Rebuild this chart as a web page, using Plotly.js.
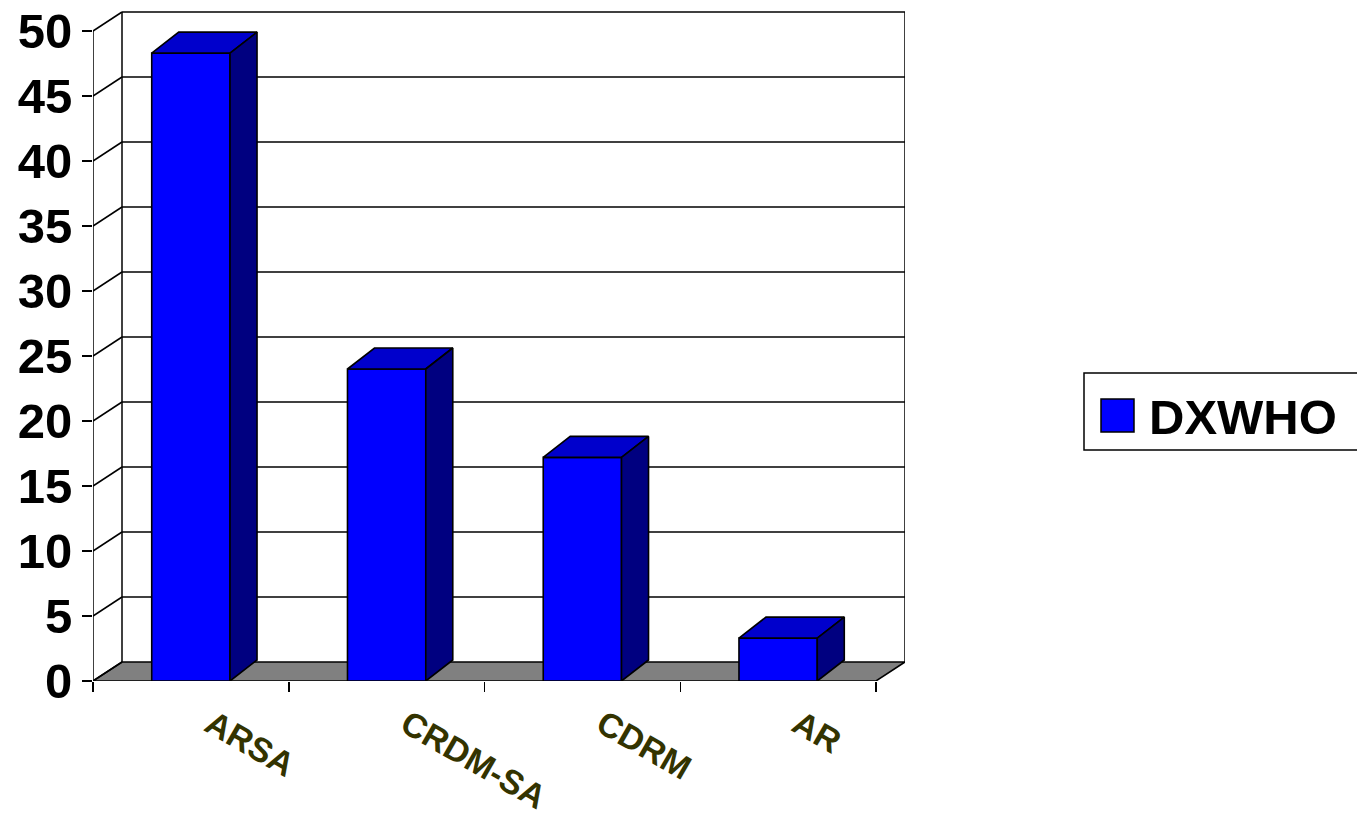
<!DOCTYPE html>
<html>
<head>
<meta charset="utf-8">
<script src="https://cdn.plot.ly/plotly-3.0.1.min.js"></script>
<style>
  html, body { margin: 0; padding: 0; background: #ffffff; }
  #chart { width: 1357px; height: 815px; }
</style>
</head>
<body>
<div id="chart"></div>
<script>
// ---- data ----
const categories = ['ARSA', 'CRDM-SA', 'CDRM', 'AR'];
const seriesName = 'DXWHO';
const dxwho = [48.3, 24, 17.2, 3.3];
const yTicks = [0, 5, 10, 15, 20, 25, 30, 35, 40, 45, 50];

// ---- geometry of the pseudo-3D box ----
const FONT = "'Liberation Sans', Arial, Helvetica, sans-serif";
const W = 1357, H = 815;
const plotL = 93, plotR = 905, plotT = 11, plotB = 681;
const pxPerCat = 195.75, pxPerUnit = 13;
const wallDx = 29 / pxPerCat, wallDy = 19 / pxPerUnit;   // back wall offset
const barDx = 27 / pxPerCat, barDy = 21 / pxPerUnit;     // column depth
const barW = 0.40;
const xMin = -0.5, xMax = categories.length - 0.5;
const xRange = [xMin, xMin + (plotR - plotL) / pxPerCat];
const yRange = [0, (plotB - plotT) / pxPerUnit];
const yTop = yTicks[yTicks.length - 1];
const idx = categories.map((_, i) => i);

const FRONT = '#0000FF', TOP = '#0000CC', SIDE = '#000080', EDGE = '#000000';

// ---- traces ----
const traces = [];
traces.push({
  type: 'bar', name: seriesName, x: idx, y: dxwho, width: barW,
  marker: { color: FRONT, line: { color: EDGE, width: 1.6 } },
  showlegend: false, hoverinfo: 'skip'
});
dxwho.forEach((v, i) => {
  const x0 = i - barW / 2, x1 = i + barW / 2;
  // top face
  traces.push({
    type: 'scatter', mode: 'lines', fill: 'toself', fillcolor: TOP,
    x: [x0, x1, x1 + barDx, x0 + barDx, x0],
    y: [v, v, v + barDy, v + barDy, v],
    line: { color: EDGE, width: 1.6 }, showlegend: false, hoverinfo: 'skip'
  });
  // right side face
  traces.push({
    type: 'scatter', mode: 'lines', fill: 'toself', fillcolor: SIDE,
    x: [x1, x1 + barDx, x1 + barDx, x1, x1],
    y: [0, barDy, v + barDy, v, 0],
    line: { color: EDGE, width: 1.6 }, showlegend: false, hoverinfo: 'skip'
  });
});

// ---- walls, floor and grid ----
const line = (x0, y0, x1, y1) => ({
  type: 'line', xref: 'x', yref: 'y', x0, y0, x1, y1,
  line: { color: EDGE, width: 1.5 }, layer: 'below'
});
const shapes = [];
// floor
shapes.push({
  type: 'path', xref: 'x', yref: 'y', layer: 'below',
  path: `M${xMin},0 L${xMax},0 L${xMax + wallDx},${wallDy} L${xMin + wallDx},${wallDy} Z`,
  fillcolor: '#808080', line: { color: EDGE, width: 1.5 }
});
// back wall gridlines and left wall diagonals
yTicks.forEach(v => {
  if (v > 0) shapes.push(line(xMin + wallDx, v + wallDy, xMax + wallDx, v + wallDy));
  shapes.push(line(xMin, v, xMin + wallDx, v + wallDy));
});
// front value axis, back-left and back-right edges
shapes.push(line(xMin, 0, xMin, yTop));
shapes.push(line(xMin + wallDx, wallDy, xMin + wallDx, yTop + wallDy));
shapes.push(line(xMax + wallDx, wallDy, xMax + wallDx, yTop + wallDy));

// ---- legend box (pixel positions converted to paper units) ----
const px = x => (x - plotL) / (plotR - plotL);
const py = y => (plotB - y) / (plotB - plotT);
shapes.push({
  type: 'rect', xref: 'paper', yref: 'paper',
  x0: px(1084), x1: px(1365), y0: py(450), y1: py(373),
  line: { color: EDGE, width: 1.5 }, fillcolor: '#ffffff'
});
shapes.push({
  type: 'rect', xref: 'paper', yref: 'paper',
  x0: px(1101), x1: px(1134), y0: py(432), y1: py(399),
  line: { color: EDGE, width: 1.5 }, fillcolor: FRONT
});
const annotations = [{
  xref: 'paper', yref: 'paper', x: px(1147), y: py(417),
  xanchor: 'left', yanchor: 'middle', showarrow: false,
  text: seriesName,
  font: { family: FONT, size: 49, color: '#000000', weight: 'bold' }
}];

const layout = {
  width: W, height: H,
  margin: { l: plotL, r: W - plotR, t: plotT, b: H - plotB, pad: 0 },
  paper_bgcolor: '#ffffff', plot_bgcolor: 'rgba(0,0,0,0)',
  showlegend: false,
  font: { family: FONT, color: '#000000' },
  xaxis: {
    range: xRange, fixedrange: true,
    tickmode: 'array', tickvals: idx, ticktext: categories,
    ticks: '', tickangle: 30,
    ticklabelstandoff: 16, ticklabelshift: 20,
    tickfont: { family: FONT, size: 34, color: '#333300', weight: 'bold' },
    minor: {
      tickmode: 'array',
      tickvals: idx.map(i => i - 0.5).concat([xMax]),
      ticks: 'outside', ticklen: 10, tickwidth: 1.5, tickcolor: EDGE,
      showgrid: false
    },
    showgrid: false, zeroline: false, showline: false
  },
  yaxis: {
    range: yRange, fixedrange: true,
    tickmode: 'array', tickvals: yTicks,
    ticks: 'outside', ticklen: 10, tickwidth: 1.5, tickcolor: EDGE,
    tickfont: { family: FONT, size: 49, color: '#000000', weight: 'bold' },
    showgrid: false, zeroline: false, showline: false
  },
  shapes, annotations
};

Plotly.newPlot('chart', traces, layout, { staticPlot: true, displayModeBar: false });
</script>
</body>
</html>
